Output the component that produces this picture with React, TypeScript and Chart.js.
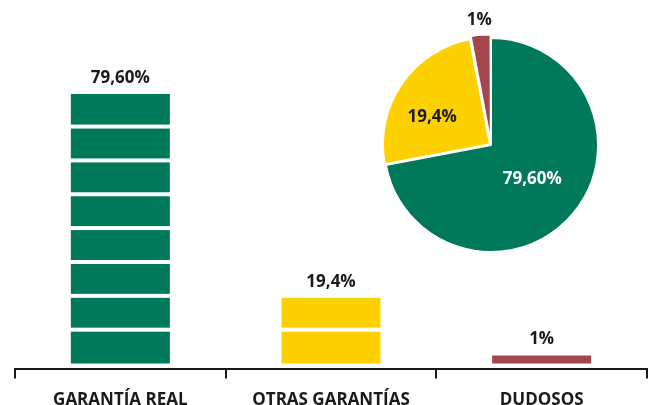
import React, { useEffect, useRef } from "react";
import { Chart, registerables } from "chart.js";
Chart.register(...registerables);

const categories = ["GARANTÍA REAL", "OTRAS GARANTÍAS", "DUDOSOS"];
const barValues = [79.6, 19.4, 1];
const barLabels = ["79,60%", "19,4%", "1%"];
const segmentStep = 10;
// slice sizes as drawn in the pie
const pieValues = [72, 25, 3];
const pieLabels = ["79,60%", "19,4%", "1%"];
const colors = ["#00785a", "#fdd100", "#a3464d"];
const FONT = "'Open Sans'";
const DARK = "#1a1a1a";

const barPlugin = {
  id: "barSegments",
  afterDatasetsDraw(chart: any) {
    const ctx = chart.ctx;
    const meta = chart.getDatasetMeta(0);
    const ys = chart.scales.y;
    ctx.save();
    meta.data.forEach((bar: any, i: number) => {
      const p = bar.getProps(["x", "y", "width", "base"], true);
      const v = barValues[i];
      ctx.fillStyle = "#ffffff";
      for (let s = segmentStep; s < v - 0.5; s += segmentStep) {
        const py = ys.getPixelForValue(s);
        ctx.fillRect(p.x - p.width / 2 - 1, py - 2, p.width + 2, 4);
      }
      ctx.fillStyle = DARK;
      ctx.font = `bold 17px ${FONT}`;
      ctx.textAlign = "center";
      ctx.textBaseline = "middle";
      ctx.fillText(barLabels[i], p.x, p.y - 16);
    });
    ctx.restore();
  },
};

const pieLabelPlugin = {
  id: "pieLabels",
  afterDatasetsDraw(chart: any) {
    const ctx = chart.ctx;
    const meta = chart.getDatasetMeta(0);
    const frac = [0.5, 0.4, 0.5];
    const colorsTxt = ["#ffffff", DARK, DARK];
    ctx.save();
    meta.data.forEach((arc: any, i: number) => {
      const p = arc.getProps(["x", "y", "startAngle", "endAngle", "outerRadius"], true);
      const a = p.startAngle + (p.endAngle - p.startAngle) * frac[i];
      const d = i === 0 ? p.outerRadius * 0.5 : i === 1 ? 65 : p.outerRadius + 18;
      ctx.fillStyle = colorsTxt[i];
      ctx.font = `bold 17px ${FONT}`;
      ctx.textAlign = "center";
      ctx.textBaseline = "middle";
      ctx.fillText(pieLabels[i], p.x + Math.cos(a) * d, p.y + Math.sin(a) * d);
    });
    ctx.restore();
  },
};

export default function App() {
  const barRef = useRef<HTMLCanvasElement>(null);
  const pieRef = useRef<HTMLCanvasElement>(null);

  useEffect(() => {
    const bar = new Chart(barRef.current!, {
      type: "bar",
      data: {
        labels: categories,
        datasets: [
          {
            data: barValues,
            backgroundColor: colors,
            borderWidth: 0,
            categoryPercentage: 1,
            barPercentage: 0.47,
            minBarLength: 8,
          },
        ],
      },
      options: {
        responsive: false,
        animation: false,
        layout: { padding: { top: 25, left: 15, right: 9, bottom: 0 } },
        plugins: { legend: { display: false }, tooltip: { enabled: false } },
        scales: {
          x: {
            grid: {
              display: true,
              offset: true,
              drawOnChartArea: false,
              drawTicks: true,
              tickLength: 10,
              color: DARK,
              lineWidth: 2,
            },
            border: { display: true, color: DARK, width: 2 },
            ticks: {
              color: DARK,
              font: { family: FONT, weight: "bold", size: 17 },
              padding: 11,
            },
          },
          y: { display: false, min: -1.5, max: 100 },
        },
      },
      plugins: [barPlugin],
    });

    const pie = new Chart(pieRef.current!, {
      type: "pie",
      data: {
        labels: categories,
        datasets: [
          {
            data: pieValues,
            backgroundColor: colors,
            borderColor: "#ffffff",
            borderWidth: 2,
            offset: [0, 5, 8],
          },
        ],
      },
      options: {
        responsive: false,
        animation: false,
        radius: 107,
        layout: { padding: 0 },
        plugins: { legend: { display: false }, tooltip: { enabled: false } },
      } as any,
      plugins: [pieLabelPlugin],
    });

    return () => {
      bar.destroy();
      pie.destroy();
    };
  }, []);

  return (
    <div style={{ position: "fixed", left: 0, top: 0, width: 656, height: 405, overflow: "hidden", background: "#fff" }}>
      <canvas ref={barRef} width={656} height={421} style={{ position: "absolute", left: 0, top: 0, width: 656, height: 421 }} />
      <canvas ref={pieRef} width={260} height={280} style={{ position: "absolute", left: 361, top: 5, width: 260, height: 280 }} />
    </div>
  );
}
